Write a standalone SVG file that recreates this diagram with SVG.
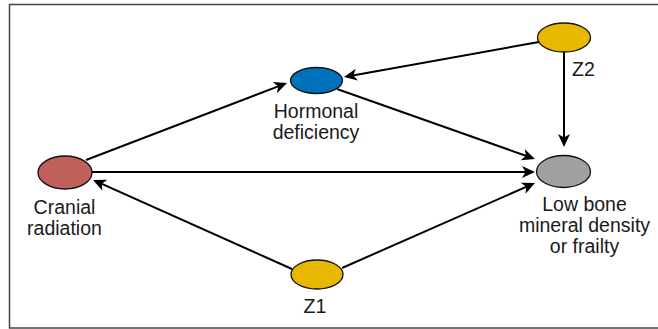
<svg xmlns="http://www.w3.org/2000/svg" width="658" height="329" viewBox="0 0 658 329">
  <style>
    .frame { fill: #ffffff; stroke: #444444; stroke-width: 1.5; }
    .node { stroke: #111111; stroke-width: 1.3; }
    .edge { stroke: #000000; stroke-width: 2; fill: none; marker-end: url(#arrow); }
    .label { font-family: "Liberation Sans", Arial, sans-serif; font-size: 19.5px; fill: #1a1a1a; text-anchor: middle; }
  </style>
  <defs>
    <marker id="arrow" viewBox="-15 -7 16 14" refX="-6" refY="0" markerWidth="16" markerHeight="14" markerUnits="userSpaceOnUse" orient="auto">
      <path d="M0,0 L-13,-6 L-9.5,0 L-13,6 Z" fill="#000000"/>
    </marker>
  </defs>

  <rect class="frame" x="9.5" y="4.5" width="660" height="323.5"/>

  <!-- connectors -->
  <g id="edges">
    <line class="edge" x1="539" y1="42" x2="349.9" y2="75.9"/>
    <line class="edge" x1="564" y1="52" x2="564" y2="141"/>
    <line class="edge" x1="337" y1="89" x2="529.3" y2="157"/>
    <line class="edge" x1="86" y1="160" x2="281.4" y2="85.1"/>
    <line class="edge" x1="92" y1="172" x2="529" y2="172"/>
    <line class="edge" x1="292" y1="269" x2="98.5" y2="182.4"/>
    <line class="edge" x1="342" y1="268" x2="529.5" y2="185.4"/>
  </g>

  <!-- nodes -->
  <g id="cranial-radiation">
    <ellipse class="node" cx="65" cy="172.5" rx="27" ry="16.5" fill="#c0605a"/>
    <text class="label" x="64.5" y="214">Cranial</text>
    <text class="label" x="64.5" y="235">radiation</text>
  </g>
  <g id="hormonal-deficiency">
    <ellipse class="node" cx="316.5" cy="80.5" rx="26" ry="13" fill="#0072bc"/>
    <text class="label" x="316" y="118">Hormonal</text>
    <text class="label" x="316" y="139">deficiency</text>
  </g>
  <g id="z2">
    <ellipse class="node" cx="564" cy="37.5" rx="26.5" ry="14.5" fill="#e8b800"/>
    <text class="label" x="572" y="76" style="text-anchor:start">Z2</text>
  </g>
  <g id="low-bone">
    <ellipse class="node" cx="563.5" cy="171.5" rx="27" ry="16" fill="#a0a0a0"/>
    <text class="label" x="584.5" y="211">Low bone</text>
    <text class="label" x="584.5" y="232">mineral density</text>
    <text class="label" x="584.5" y="253">or frailty</text>
  </g>
  <g id="z1">
    <ellipse class="node" cx="317" cy="274.5" rx="26" ry="14.5" fill="#e8b800"/>
    <text class="label" x="315" y="313">Z1</text>
  </g>
</svg>
